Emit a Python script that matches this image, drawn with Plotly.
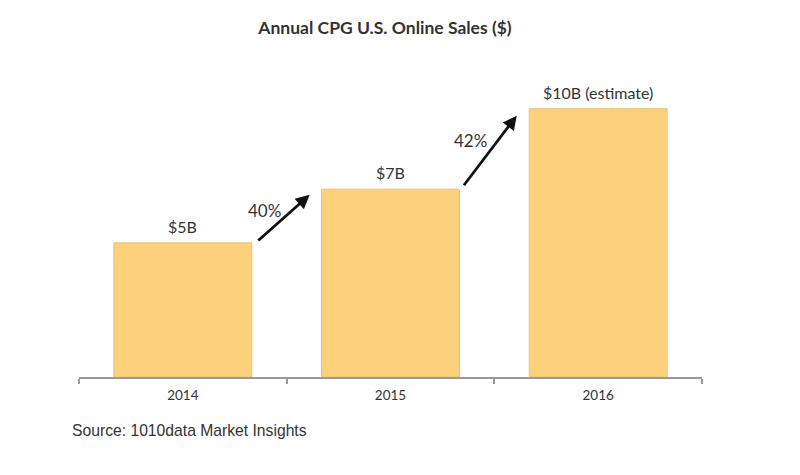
import plotly.graph_objects as go

years = ["2014", "2015", "2016"]
sales = [5, 7, 10]
bar_labels = ["$5B", "$7B", "$10B (estimate)"]
growth_labels = ["40%", "42%"]
source_text = "Source: 1010data Market Insights"
title_text = "Annual CPG U.S. Online Sales ($)"

xpos = list(range(len(years)))

fig = go.Figure()
fig.add_trace(go.Bar(
    x=xpos, y=sales, width=0.664,
    marker=dict(color="#FDD17B", line=dict(color="#E9C27A", width=1)),
    hoverinfo="skip",
))

annotations = []
for xi, v, lab in zip(xpos, sales, bar_labels):
    annotations.append(dict(x=xi, y=v, xref="x", yref="y", text=lab, showarrow=False,
                            yanchor="bottom", yshift=5,
                            font=dict(family="Lato", size=16, color="#333333")))

# growth arrows between bars
arrows = [((0.356, 5.04), (0.611, 6.79)), ((1.348, 7.09), (1.608, 9.74))]
label_pos = [(0.395, 6.2), (1.385, 8.8)]
for (tail, head), lab, lp in zip(arrows, growth_labels, label_pos):
    annotations.append(dict(x=head[0], y=head[1], ax=tail[0], ay=tail[1],
                            xref="x", yref="y", axref="x", ayref="y",
                            text="", showarrow=True, arrowhead=2, arrowsize=1,
                            arrowwidth=2.8, arrowcolor="#111111"))
    annotations.append(dict(x=lp[0], y=lp[1], xref="x", yref="y", text=lab,
                            showarrow=False,
                            font=dict(family="Lato", size=17, color="#333333")))

annotations.append(dict(x=(70 - 79) / 623, y=(377 - 430) / 322, xref="paper", yref="paper",
                        xanchor="left", yanchor="middle", text=source_text,
                        showarrow=False,
                        font=dict(family="Liberation Sans", size=15.7, color="#333333")))

fig.update_layout(
    width=800, height=475,
    margin=dict(l=71, r=106, t=47, b=106),
    paper_bgcolor="white", plot_bgcolor="white",
    title=dict(text="<b>" + title_text + "</b>", x=(385 - 8) / 800, xref="container", xanchor="center",
               y=1 - (28 - 8) / 475, yref="container", yanchor="middle",
               font=dict(family="Lato", size=17.5, color="#333333")),
    showlegend=False,
    xaxis=dict(range=[-0.5, len(years) - 0.5], showline=True, linecolor="#999999", linewidth=1.5,
               tickmode="array", tickvals=xpos, ticktext=years, ticks="",
               ticklabelstandoff=5,
               minor=dict(tickmode="array", tickvals=[i - 0.5 for i in range(len(years) + 1)],
                          ticks="outside", ticklen=5, tickcolor="#999999", tickwidth=1.5,
                          showgrid=False),
               tickfont=dict(family="Lato", size=13.5, color="#333333"),
               showgrid=False, zeroline=False),
    yaxis=dict(range=[0, 12], visible=False, showgrid=False),
    annotations=annotations,
)

fig.write_html("out.html")
